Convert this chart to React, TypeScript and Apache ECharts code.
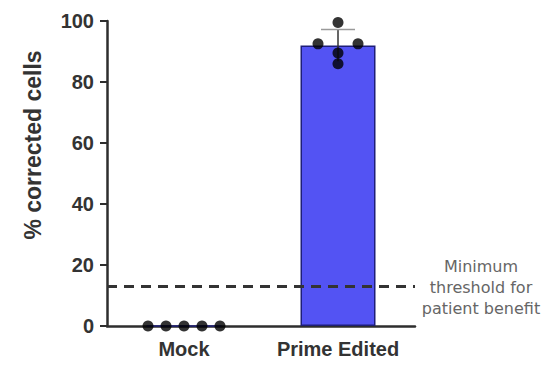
import React, { useEffect, useRef } from "react";
import * as echarts from "echarts";

const categories = ["Mock", "Prime Edited"];
const barMeans = [0, 92];
const errorSD = [0, 5.2];
const mockPoints = [0, 0, 0, 0, 0];
const primePoints = [99.5, 92.5, 92.5, 89.5, 86];
const mockJitter = [-36, -18, 0, 18, 36];
const primeJitter = [0, -20, 20, 0, 0];
const yTicks = [0, 20, 40, 60, 80, 100];
const threshold = 13;
const thresholdText = ["Minimum", "threshold for", "patient benefit"];
const yAxisTitle = "% corrected cells";

export default function App() {
  const ref = useRef<HTMLDivElement>(null);
  useEffect(() => {
    if (!ref.current) return;
    const chart = echarts.init(ref.current, undefined, { renderer: "svg" });
    const axisColor = "#2e2e2e";
    const font = "'Liberation Sans', Arial, sans-serif";
    const points: any[] = [];
    mockPoints.forEach((v, i) =>
      points.push({ value: [0, v], symbolOffset: [mockJitter[i], 0] })
    );
    primePoints.forEach((v, i) =>
      points.push({ value: [1, v], symbolOffset: [primeJitter[i], 0] })
    );
    chart.setOption({
      animation: false,
      backgroundColor: "#ffffff",
      grid: { left: 107, top: 21, right: 134, bottom: 39, containLabel: false },
      xAxis: {
        type: "category",
        data: categories,
        boundaryGap: true,
        axisLine: { lineStyle: { color: axisColor, width: 2.5 } },
        axisTick: { alignWithLabel: true, length: 5, lineStyle: { color: axisColor, width: 1.5 } },
        axisLabel: {
          interval: 0,
          color: "#333",
          fontFamily: font,
          fontWeight: "bold",
          fontSize: 20,
          margin: 13,
        },
      },
      yAxis: {
        type: "value",
        min: yTicks[0],
        max: yTicks[yTicks.length - 1],
        interval: yTicks[1] - yTicks[0],
        splitLine: { show: false },
        axisLine: { show: true, lineStyle: { color: axisColor, width: 2.5 } },
        axisTick: { show: true, length: 7, lineStyle: { color: axisColor, width: 2 } },
        axisLabel: {
          color: "#333",
          fontFamily: font,
          fontWeight: "bold",
          fontSize: 20,
          margin: 13,
        },
      },
      graphic: [
        {
          type: "text",
          x: 33,
          y: 145,
          rotation: Math.PI / 2,
          style: {
            text: yAxisTitle,
            fill: "#333",
            font: `bold 23px ${font}`,
            textAlign: "center",
            textVerticalAlign: "middle",
          },
        },
        {
          type: "text",
          x: 481,
          y: 256,
          style: {
            text: thresholdText.join("\n"),
            fill: "#666",
            font: "16px 'DejaVu Sans', Verdana, sans-serif",
            lineHeight: 21,
            textAlign: "center",
          },
        },
      ],
      series: [
        {
          type: "bar",
          data: barMeans,
          barWidth: 75,
          itemStyle: { color: "#5353F3", borderColor: "#1e1e78", borderWidth: 1.5 },
          markLine: {
            silent: true,
            symbol: "none",
            label: { show: false },
            lineStyle: { color: "#333", width: 3, type: [10, 7] },
            data: [{ yAxis: threshold }],
            z: 10,
          },
          z: 2,
        },
        {
          type: "custom",
          data: barMeans.map((m, i) => [i, m, errorSD[i]]),
          z: 3,
          renderItem: (params: any, api: any) => {
            const sd = api.value(2);
            if (!sd) return null;
            const x = api.value(0);
            const m = api.value(1);
            const hi = api.coord([x, m + sd]);
            const lo = api.coord([x, m - sd]);
            const hw = 17;
            return {
              type: "group",
              children: [
                { type: "line", shape: { x1: hi[0], y1: hi[1], x2: lo[0], y2: lo[1] }, style: { stroke: "#333", lineWidth: 1.5 } },
                { type: "line", shape: { x1: hi[0] - hw, y1: hi[1], x2: hi[0] + hw, y2: hi[1] }, style: { stroke: "#9a9a9a", lineWidth: 1.5 } },
              ],
            };
          },
        },
        {
          type: "scatter",
          data: points,
          symbol: "circle",
          symbolSize: 11,
          itemStyle: { color: "#000" },
          z: 5,
        },
      ],
    });
    return () => chart.dispose();
  }, []);
  return <div ref={ref} style={{ width: 549, height: 365, position: "absolute", left: 0, top: 0 }} />;
}
